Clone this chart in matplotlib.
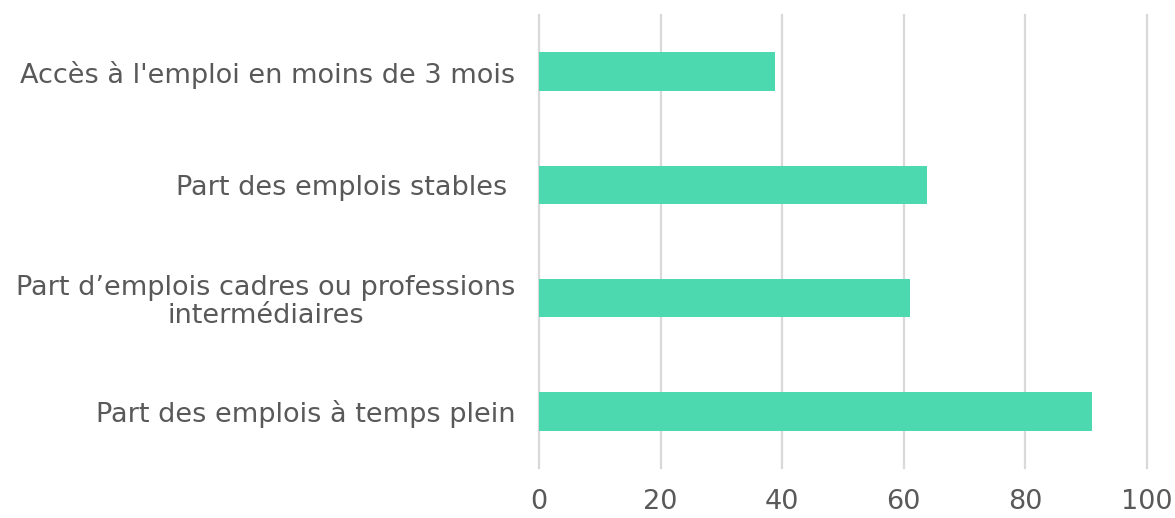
import matplotlib
matplotlib.use("Agg")
import matplotlib.pyplot as plt

categories = [
    "Accès à l'emploi en moins de 3 mois",
    "Part des emplois stables ",
    "Part d\u2019emplois cadres ou professions\nintermédiaires",
    "Part des emplois à temps plein",
]
values = [38.8, 63.8, 61.0, 91.0]
xticks = [0, 20, 40, 60, 80, 100]

fig = plt.figure(figsize=(11.75, 5.18), dpi=100)
ax = fig.add_axes([539/1175, 1-468/518, (1147-539)/1175, (468-15)/518])

ypos = list(range(len(categories)))
ax.barh(ypos, values, height=0.34, color="#4DD9B0", zorder=3)
ax.set_ylim(3.5, -0.5)
ax.set_xlim(0, 100)
ax.set_xticks(xticks)
ax.set_xticklabels([str(t) for t in xticks])
ax.set_yticks(ypos)
ax.set_yticklabels(categories, multialignment="center", linespacing=1.1)
ax.grid(axis="x", color="#d9d9d9", linewidth=1.6, zorder=0)
for gl in ax.get_xgridlines():
    gl.set_clip_on(False)
for s in ax.spines.values():
    s.set_visible(False)
ax.tick_params(axis="both", length=0, labelsize=19.5, labelcolor="#595959")
ax.tick_params(axis="x", pad=15)
ax.tick_params(axis="y", pad=17)

fig.savefig("out.png", dpi=100)
